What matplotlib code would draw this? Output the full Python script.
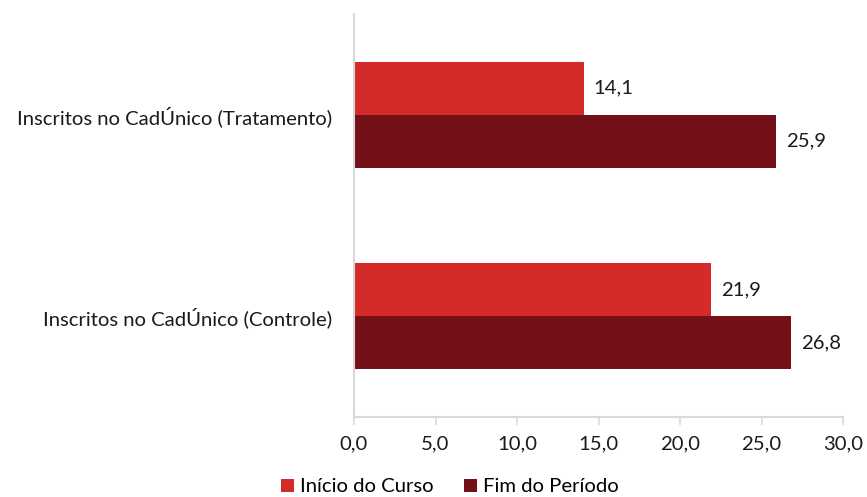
import matplotlib
matplotlib.use("Agg")
import matplotlib.pyplot as plt
from matplotlib.patches import Patch

categories = ["Inscritos no CadÚnico (Controle)", "Inscritos no CadÚnico (Tratamento)"]
series_names = ["Início do Curso", "Fim do Período"]
inicio = [21.9, 14.1]
fim = [26.8, 25.9]
xticks = [0, 5, 10, 15, 20, 25, 30]

colors = ["#D52A2A", "#731018"]
font = ["Lato", "DejaVu Sans"]
fs = 14.6

fig = plt.figure(figsize=(8.67, 4.97), dpi=100)
ax = fig.add_axes([354 / 867, 1 - 417 / 497, (843 - 354) / 867, (417 - 14) / 497])

h = 0.263
ypos = list(range(len(categories)))
b1 = ax.barh([y + h / 2 for y in ypos], inicio, height=h, color=colors[0])
b2 = ax.barh([y - h / 2 for y in ypos], fim, height=h, color=colors[1])

for bars, vals in ((b1, inicio), (b2, fim)):
    for bar, v in zip(bars, vals):
        ax.text(v + 0.6, bar.get_y() + bar.get_height() / 2,
                f"{v:.1f}".replace(".", ","), va="center", ha="left",
                fontsize=fs, family=font, color="#1a1a1a")

ax.set_xlim(0, 30)
ax.set_ylim(-0.5, 1.5)
ax.set_xticks(xticks)
ax.set_xticklabels([f"{t:.1f}".replace(".", ",") for t in xticks],
                   fontsize=fs, family=font, color="#1a1a1a")
ax.set_yticks(ypos)
ax.set_yticklabels(categories, fontsize=fs, family=font, color="#1a1a1a")
ax.tick_params(axis="y", length=0, pad=15.5)
ax.tick_params(axis="x", length=6, color="#D9D9D9", width=1.2, pad=7.5)

for s in ("top", "right"):
    ax.spines[s].set_visible(False)
for s in ("left", "bottom"):
    ax.spines[s].set_color("#D9D9D9")
    ax.spines[s].set_linewidth(1.5)

handles = [Patch(facecolor=c, label=n) for c, n in zip(colors, series_names)]
fig.legend(handles=handles, loc="center", bbox_to_anchor=(450 / 867, 1 - 487 / 497),
           ncol=2, frameon=False, prop={"family": font, "size": fs},
           handlelength=0.65, handleheight=0.65, handletextpad=0.3, columnspacing=1.5)

fig.savefig("out.png", dpi=100)
